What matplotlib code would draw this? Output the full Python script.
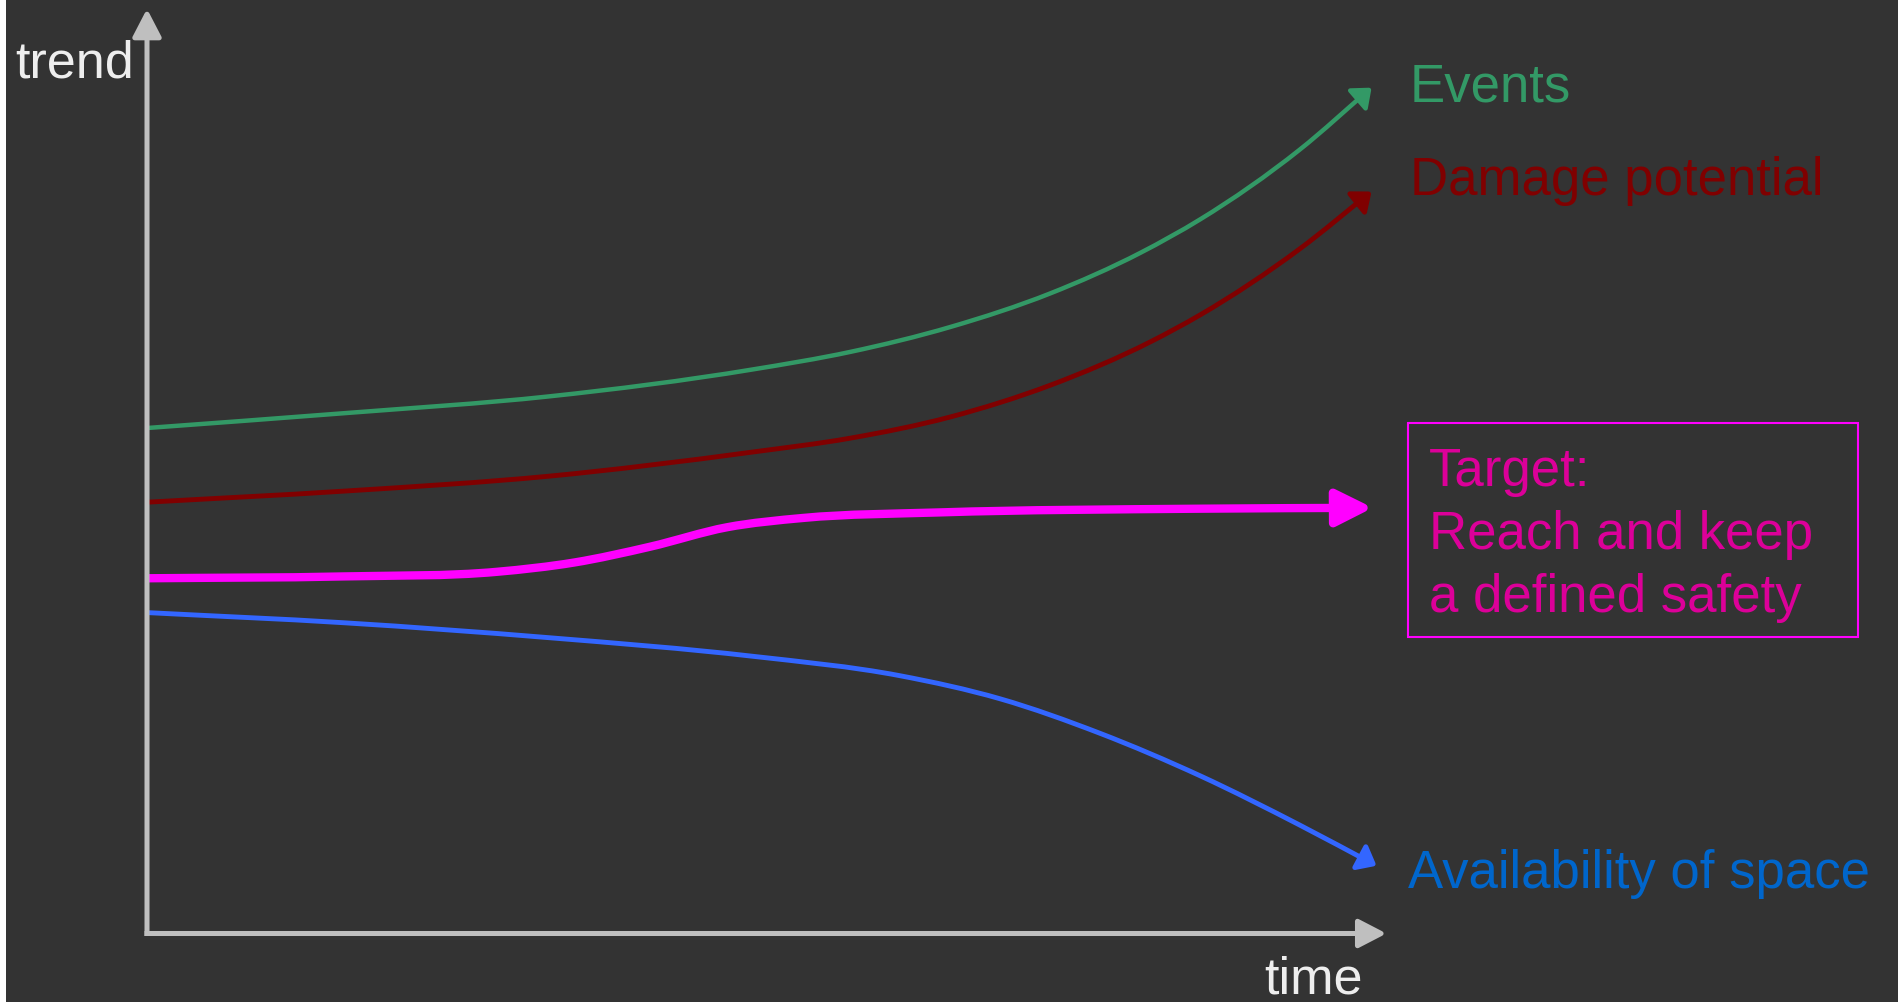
import numpy as np
import matplotlib
matplotlib.use("Agg")
import matplotlib.pyplot as plt
from matplotlib.path import Path
from matplotlib.patches import FancyArrowPatch, Rectangle

W, H, DPI = 1898, 1002, 100
BG = "#333333"
FONT = ["Liberation Sans", "DejaVu Sans"]

# ---- data (time 0..100, trend 0..100) ----
events_t = [0, 15.9, 32.3, 48.7, 56.6, 64.7, 72.7, 80.0, 84.8, 92.8, 98.6]
events_v = [54.5, 56.1, 57.9, 60.8, 62.7, 65.4, 69.0, 73.4, 77.0, 84.5, 91.2]

damage_t = [0, 15.9, 32.3, 48.7, 56.6, 64.7, 72.7, 80.8, 84.8, 92.8, 98.6]
damage_v = [46.5, 47.7, 49.3, 51.9, 53.4, 55.7, 59.1, 63.8, 66.7, 73.8, 80.0]

target_t = [0, 15.9, 28.2, 34.4, 40.5, 46.7, 52.8, 63.8, 84.8, 98.7]
target_v = [38.3, 38.5, 39.0, 40.0, 41.7, 43.8, 44.8, 45.4, 45.8, 45.9]

space_t = [0, 15.9, 32.3, 48.7, 60.6, 68.7, 76.7, 84.8, 92.8, 99.0]
space_v = [34.6, 33.5, 31.9, 29.9, 27.8, 25.3, 21.6, 17.0, 11.7, 7.3]

label_events = "Events"
label_damage = "Damage potential"
label_target = ["Target:", "Reach and keep", "a defined safety"]
label_space = "Availability of space"
axis_x_label = "time"
axis_y_label = "trend"

# ---- figure ----
fig = plt.figure(figsize=(W / DPI, H / DPI), dpi=DPI, facecolor=BG)
fig.add_artist(Rectangle((0, 0), 6 / W, 1, transform=fig.transFigure,
                         facecolor="white", edgecolor="none"))

x0, y0, xtip, ytip = 147, 933.5, 1389, 6
ax = fig.add_axes([x0 / W, 1 - y0 / H, (xtip - x0) / W, (y0 - ytip) / H])
ax.set_xlim(0, 100)
ax.set_ylim(0, 100)
ax.set_facecolor("none")
ax.axis("off")


def smooth_path(xs, ys):
    """Hermite (cubic Bezier) curve through the points."""
    x = np.asarray(xs, float)
    y = np.asarray(ys, float)
    n = len(x)
    h = np.diff(x)
    d = np.diff(y) / h
    m = np.empty(n)
    m[0] = d[0]
    m[-1] = d[-1]
    for i in range(1, n - 1):
        m[i] = (h[i] * d[i - 1] + h[i - 1] * d[i]) / (h[i - 1] + h[i])
    verts = [(x[0], y[0])]
    codes = [Path.MOVETO]
    for i in range(n - 1):
        hh = h[i] / 3
        verts += [(x[i] + hh, y[i] + m[i] * hh),
                  (x[i + 1] - hh, y[i + 1] - m[i + 1] * hh),
                  (x[i + 1], y[i + 1])]
        codes += [Path.CURVE4] * 3
    return Path(verts, codes)


def curve_arrow(ts, vs, color, lw, hl, hw, z=3):
    p = FancyArrowPatch(path=smooth_path(ts, vs),
                        arrowstyle=f"-|>,head_length={hl},head_width={hw}",
                        mutation_scale=1, color=color, lw=lw, zorder=z,
                        clip_on=False, capstyle="butt")
    ax.add_patch(p)


curve_arrow(events_t, events_v, "#339966", 3.2, 10.5, 8.5)
curve_arrow(damage_t, damage_v, "#800000", 3.5, 10.5, 8.5)
curve_arrow(target_t, target_v, "#FF00FF", 6.0, 22, 11)
curve_arrow(space_t, space_v, "#3366FF", 3.5, 10.5, 8.5)

# axes arrows
axis_style = "-|>,head_length=17,head_width=8.8"
ax.add_patch(FancyArrowPatch((0, -0.27), (0, 99.7), arrowstyle=axis_style,
                             mutation_scale=1, color="#BFBFBF", lw=3.6,
                             zorder=5, clip_on=False, shrinkA=0, shrinkB=0,
                             capstyle="butt"))
ax.add_patch(FancyArrowPatch((-0.2, 0), (99.8, 0), arrowstyle=axis_style,
                             mutation_scale=1, color="#BFBFBF", lw=3.6,
                             zorder=5, clip_on=False, shrinkA=0, shrinkB=0,
                             capstyle="butt"))


def ftext(x, y, s, color, size=38):
    fig.text(x / W, 1 - y / H, s, color=color, fontsize=size,
             ha="left", va="baseline", family=FONT)


ftext(15, 77, axis_y_label, "#EEEEEE", 37.5)
ftext(1264, 994, axis_x_label, "#EEEEEE", 37.5)
ftext(1410, 101, label_events, "#339966")
ftext(1410, 195, label_damage, "#800000")
for s, yb in zip(label_target, [486, 549, 612]):
    ftext(1429, yb, s, "#DC0099")
ftext(1408, 888, label_space, "#0066CC")

fig.add_artist(Rectangle((1408 / W, 1 - 636.7 / H), (1857.6 - 1408) / W,
                         (636.7 - 423.3) / H, transform=fig.transFigure,
                         fill=False, edgecolor="#FF00FF", lw=1.5))

fig.savefig("out.png", dpi=DPI, facecolor=BG)
